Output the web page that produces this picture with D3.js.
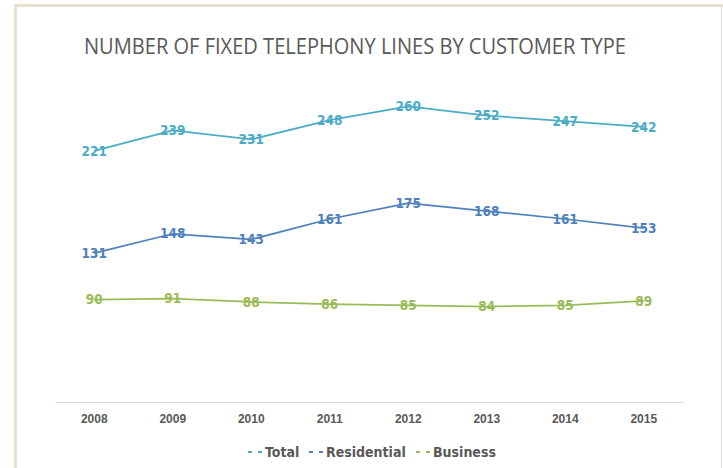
<!DOCTYPE html>
<html>
<head>
<meta charset="utf-8">
<script src="https://cdn.jsdelivr.net/npm/d3@7"></script>
<style>
  body { margin: 0; background: #fff; }
  svg { display: block; font-family: "Liberation Sans Narrow", "DejaVu Sans Condensed", "Liberation Sans", sans-serif; }
</style>
</head>
<body>
<svg id="chart" width="723" height="468"></svg>
<script>
const years = ["2008", "2009", "2010", "2011", "2012", "2013", "2014", "2015"];
const total = [221, 239, 231, 248, 260, 252, 247, 242];
const residential = [131, 148, 143, 161, 175, 168, 161, 153];
const business = [90, 91, 88, 86, 85, 84, 85, 89];
const seriesNames = ["Total", "Residential", "Business"];
const seriesColors = ["#4bacc6", "#4f81bd", "#9bbb59"];

const svg = d3.select("#chart");
const width = 723, height = 468;
const margin = { top: 61, right: 40, bottom: 66, left: 55 };

// frame
svg.append("rect")
  .attr("x", 15.5).attr("y", 5.5)
  .attr("width", 720).attr("height", 480)
  .attr("fill", "#fff")
  .attr("stroke", "#e4e1d1")
  .attr("stroke-width", 3);
svg.append("line")
  .attr("x1", 721.5).attr("x2", 721.5)
  .attr("y1", 7).attr("y2", height)
  .attr("stroke", "#d9d9d9");

svg.append("text")
  .attr("x", 355).attr("y", 54)
  .attr("text-anchor", "middle")
  .attr("font-size", 21)
  .attr("fill", "#595959")
  .attr("textLength", 542)
  .attr("lengthAdjust", "spacingAndGlyphs")
  .style("font-family", "'Liberation Sans Narrow', 'Open Sans', sans-serif")
  .text("NUMBER OF FIXED TELEPHONY LINES BY CUSTOMER TYPE");

const x = d3.scaleBand()
  .domain(years)
  .range([margin.left, width - margin.right]);

const y = d3.scaleLinear()
  .domain([0, 300])
  .range([height - margin.bottom, margin.top]);

const xAxis = svg.append("g")
  .attr("transform", `translate(0,${y(0)})`)
  .call(d3.axisBottom(x).tickSize(0).tickPadding(12));
xAxis.select(".domain").attr("stroke", "#d9d9d9");
xAxis.selectAll("text")
  .attr("font-size", 12)
  .attr("font-weight", "bold")
  .attr("fill", "#595959")
  .style("font-family", "inherit");

const data = [total, residential, business].map((vals, i) => ({
  name: seriesNames[i],
  color: seriesColors[i],
  values: vals.map((v, j) => ({ year: years[j], value: v }))
}));

const line = d3.line()
  .x(d => x(d.year) + x.bandwidth() / 2)
  .y(d => y(d.value));

svg.selectAll("path.series")
  .data(data)
  .join("path")
  .attr("class", "series")
  .attr("fill", "none")
  .attr("stroke", d => d.color)
  .attr("stroke-width", 1.75)
  .attr("d", d => line(d.values));

data.forEach(s => {
  svg.append("g")
    .selectAll("text")
    .data(s.values)
    .join("text")
    .attr("x", d => x(d.year) + x.bandwidth() / 2)
    .attr("y", d => y(d.value))
    .attr("dy", "0.35em")
    .attr("text-anchor", "middle")
    .attr("font-size", 13.5)
    .attr("font-weight", "bold")
    .attr("fill", s.color)
    .text(d => d.value);
});

// legend
const legendX = [248, 309, 416];
const legend = svg.append("g").attr("transform", "translate(0,452)");
data.forEach((s, i) => {
  const g = legend.append("g").attr("transform", `translate(${legendX[i]},0)`);
  g.append("line")
    .attr("x1", 0).attr("x2", 15)
    .attr("stroke", s.color)
    .attr("stroke-width", 2)
    .attr("stroke-dasharray", "4,6");
  g.append("text")
    .attr("x", 17).attr("dy", "0.35em")
    .attr("font-size", 14)
    .attr("font-weight", "bold")
    .attr("fill", "#595959")
    .text(s.name);
});
</script>
</body>
</html>
